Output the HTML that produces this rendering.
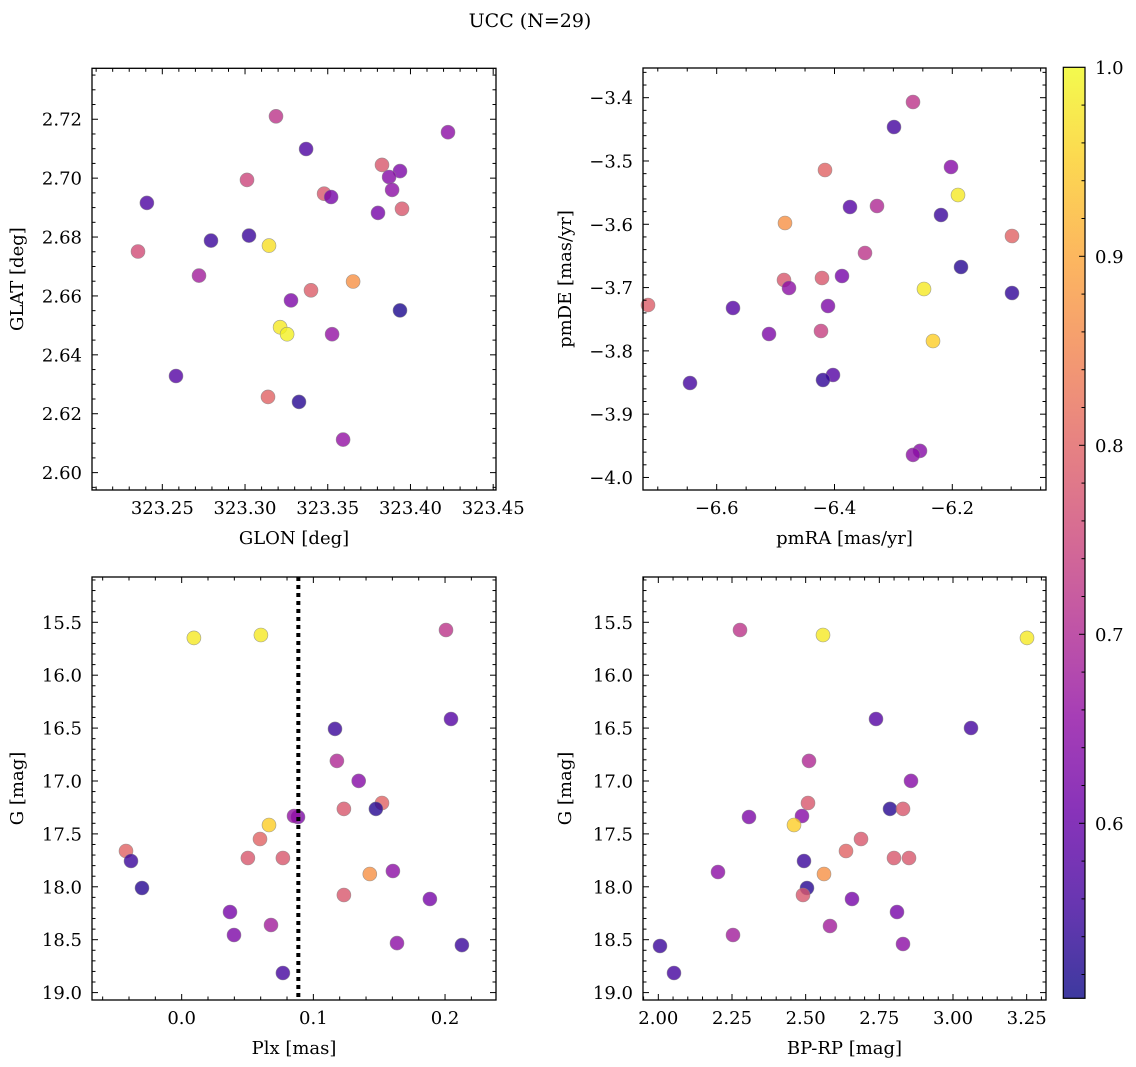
<!DOCTYPE html>
<html><head><meta charset="utf-8"><title>UCC (N=29)</title>
<style>
html,body{margin:0;padding:0;background:#fff;}
svg{display:block;font-family:"DejaVu Serif","Liberation Serif",serif;}
</style></head>
<body>
<svg id="fig" width="1136" height="1067" viewBox="0 0 1136 1067" xmlns="http://www.w3.org/2000/svg">
<rect width="1136" height="1067" fill="#fff"/>
<text x="530" y="27" text-anchor="middle" font-size="19">UCC (N=29)</text>
</svg>
<script>
// ---------- data ----------
const glon = [323.3187,323.4227,323.3369,323.3828,323.3937,323.3871,323.3012,323.3478,323.352,323.3889,323.2407,323.3804,323.3949,323.2794,323.3024,323.3145,323.2353,323.3653,323.2722,323.3399,323.3278,323.3937,323.3212,323.3254,323.3526,323.2583,323.3139,323.3326,323.3593];
const glat = [2.721,2.7156,2.7099,2.7045,2.7024,2.7004,2.6994,2.6947,2.6936,2.696,2.6916,2.6882,2.6896,2.6788,2.6805,2.6771,2.6751,2.6649,2.6669,2.6619,2.6585,2.6551,2.6494,2.647,2.647,2.6328,2.6257,2.624,2.6112];
const probA = [0.72,0.65,0.57,0.78,0.63,0.64,0.75,0.78,0.62,0.65,0.57,0.62,0.78,0.55,0.55,0.97,0.76,0.87,0.68,0.79,0.63,0.52,0.98,0.99,0.66,0.58,0.8,0.53,0.66];

const pmra = [-6.2667,-6.299,-6.2022,-6.4161,-6.1903,-6.3737,-6.3278,-6.2192,-6.484,-6.0986,-6.3482,-6.1852,-6.3873,-6.4212,-6.4857,-6.7166,-6.4772,-6.248,-6.0986,-6.5723,-6.411,-6.4229,-6.5112,-6.2328,-6.4025,-6.4195,-6.6453,-6.2548,-6.2667];
const pmde = [-3.4068,-3.4463,-3.5095,-3.5142,-3.5537,-3.5727,-3.5711,-3.5853,-3.598,-3.6185,-3.6453,-3.6675,-3.6817,-3.6848,-3.688,-3.7275,-3.7006,-3.7022,-3.7085,-3.7322,-3.7291,-3.7686,-3.7733,-3.7844,-3.8381,-3.846,-3.8507,-3.9581,-3.9644];
const probB = [0.72,0.56,0.64,0.8,0.98,0.58,0.7,0.55,0.87,0.8,0.72,0.53,0.62,0.78,0.78,0.79,0.65,0.98,0.54,0.58,0.63,0.74,0.63,0.95,0.58,0.54,0.56,0.64,0.65];

const plx = [0.0093,0.0602,0.2007,0.2045,0.1164,0.1179,0.1344,0.0883,0.1521,0.1232,0.1475,0.0853,0.0663,0.0595,-0.0423,-0.0385,0.0503,0.0769,0.1429,0.1604,-0.0301,0.1232,0.1885,0.0367,0.0397,0.0678,0.1635,0.2128,0.0769];
const gmagC = [15.648,15.62,15.573,16.414,16.508,16.81,16.999,17.34,17.208,17.264,17.264,17.331,17.416,17.548,17.662,17.756,17.728,17.728,17.879,17.851,18.011,18.078,18.115,18.238,18.456,18.361,18.532,18.551,18.815];
const probC = [0.98,0.98,0.72,0.58,0.55,0.7,0.64,0.63,0.8,0.78,0.53,0.66,0.95,0.8,0.8,0.55,0.78,0.78,0.87,0.65,0.53,0.78,0.62,0.62,0.63,0.68,0.65,0.55,0.56];

const bprp = [2.2772,2.5589,3.2511,2.7387,3.0611,2.5114,2.8575,2.3078,2.508,2.4876,2.7862,2.8303,2.4605,2.6878,2.6369,2.4944,2.8507,2.7998,2.5623,2.2026,2.5046,2.491,2.6573,2.81,2.2535,2.5826,2.8303,2.0058,2.0533];
const gmagD = [15.573,15.62,15.648,16.414,16.499,16.81,16.999,17.34,17.208,17.331,17.264,17.264,17.416,17.548,17.662,17.756,17.728,17.728,17.879,17.86,18.011,18.078,18.115,18.238,18.456,18.371,18.541,18.56,18.815];
const probD = [0.72,0.98,0.98,0.58,0.56,0.7,0.64,0.63,0.78,0.64,0.53,0.78,0.95,0.78,0.8,0.55,0.78,0.78,0.87,0.65,0.53,0.78,0.62,0.62,0.68,0.68,0.65,0.55,0.56];

const plxCut = [0.0886];

const ticksGlon = [323.25,323.30,323.35,323.40,323.45];
const ticksGlat = [2.60,2.62,2.64,2.66,2.68,2.70,2.72];
const ticksPmra = [-6.6,-6.4,-6.2];
const ticksPmde = [-4.0,-3.9,-3.8,-3.7,-3.6,-3.5,-3.4];
const ticksPlx = [0.0,0.1,0.2];
const ticksG = [15.5,16.0,16.5,17.0,17.5,18.0,18.5,19.0];
const ticksBprp = [2.00,2.25,2.50,2.75,3.00,3.25];
const ticksCbar = [0.6,0.7,0.8,0.9,1.0];
const cbarRange = [0.5074,1.0];

// ---------- helpers ----------
const NS = "http://www.w3.org/2000/svg";
const fig = document.getElementById('fig');
function mk(tag, attrs, parent){
  const e = document.createElementNS(NS, tag);
  for (const k in attrs) e.setAttribute(k, attrs[k]);
  (parent||fig).appendChild(e);
  return e;
}
const plasmaStops = ["#0d0887","#41049d","#6a00a8","#8f0da4","#b12a90","#cc4778","#e16462","#f2844b","#fca636","#fcce25","#f0f921"];
function hex2rgb(h){return [parseInt(h.substr(1,2),16),parseInt(h.substr(3,2),16),parseInt(h.substr(5,2),16)];}
function plasma(t){
  t=Math.max(0,Math.min(1,t));
  const p=t*10, i=Math.min(9,Math.floor(p)), f=p-i;
  const a=hex2rgb(plasmaStops[i]), b=hex2rgb(plasmaStops[i+1]);
  return 'rgb('+a.map((v,k)=>Math.round(v+(b[k]-v)*f)).join(',')+')';
}
function cmap(v){return plasma((v-cbarRange[0])/(cbarRange[1]-cbarRange[0]));}
function fmt(v,d){return (v<0?'\u2212':'')+Math.abs(v).toFixed(d);}

function panel(cfg){
  const g = mk('g',{});
  
  
  const L=cfg.px[0],R=cfg.px[1],T=cfg.py[0],B=cfg.py[1];
  const sx=v=>L+(v-cfg.xd[0])/(cfg.xd[1]-cfg.xd[0])*(R-L);
  const sy=v=>T+(v-cfg.yd[0])/(cfg.yd[1]-cfg.yd[0])*(B-T);
  const pg = mk('g',{},g);
  
  
  for(let i=0;i<cfg.x.length;i++){
    const c = mk('circle',{cx:sx(cfg.x[i]).toFixed(1),cy:sy(cfg.y[i]).toFixed(1),r:7,fill:cmap(cfg.c[i]),'fill-opacity':0.8,stroke:'#888','stroke-width':0.6,'stroke-opacity':0.8},pg);
    
    
  }
  if(cfg.vline){
    for(const v of cfg.vline){
      const ln = mk('line',{x1:sx(v),x2:sx(v),y1:T,y2:B,stroke:'#000','stroke-width':4,'stroke-dasharray':'4,4'},g);
      
      
    }
  }
  const tg = mk('g',{stroke:'#000','stroke-width':1},g);
  
  
  const xs=cfg.xt, xstep=xs[1]-xs[0];
  for(let k=-2;k<xs.length+1;k++){
    const base=xs[0]+k*xstep;
    for(let m=0;m<cfg.xm;m++){
      const v=base+m*xstep/cfg.xm, X=sx(v);
      if(X<L+0.5||X>R-0.5) continue;
      const len=m===0?6:3.5;
      mk('line',{x1:X,x2:X,y1:B,y2:B-len},tg);
      mk('line',{x1:X,x2:X,y1:T,y2:T+len},tg);
    }
  }
  const ys=cfg.yt, ystep=ys[1]-ys[0];
  for(let k=-2;k<ys.length+1;k++){
    const base=ys[0]+k*ystep;
    for(let m=0;m<cfg.ym;m++){
      const v=base+m*ystep/cfg.ym, Y=sy(v);
      if(Y<T+0.5||Y>B-0.5) continue;
      const len=m===0?6:3.5;
      mk('line',{x1:L,x2:L+len,y1:Y,y2:Y},tg);
      mk('line',{x1:R,x2:R-len,y1:Y,y2:Y},tg);
    }
  }
  for(const v of xs){
    const t=mk('text',{x:sx(v),y:B+24,'text-anchor':'middle','font-size':18},g);
    
    
    t.textContent=fmt(v,cfg.xdp);
  }
  for(const v of ys){
    const t=mk('text',{x:L-10,y:sy(v)+6.5,'text-anchor':'end','font-size':18},g);
    
    
    t.textContent=fmt(v,cfg.ydp);
  }
  const fr=mk('rect',{x:L,y:T,width:R-L,height:B-T,fill:'none',stroke:'#000','stroke-width':1.3},g);
  
  
  const xl=mk('text',{x:(L+R)/2,y:B+54,'text-anchor':'middle','font-size':18},g);
  
  
  xl.textContent=cfg.xlabel;
  const yx=cfg.ylx, yy=(T+B)/2;
  const yl=mk('text',{x:yx,y:yy,'text-anchor':'middle','font-size':18,transform:'rotate(-90 '+yx+' '+yy+')'},g);
  
  
  yl.textContent=cfg.ylabel;
}

panel({name:'glon-glat-panel',px:[92,496],py:[68.3,490],xd:[323.2075,323.4517],yd:[2.7373,2.5941],
  x:glon,y:glat,c:probA,xt:ticksGlon,yt:ticksGlat,xm:5,ym:4,xdp:2,ydp:2,xlabel:'GLON [deg]',ylabel:'GLAT [deg]',ylx:23});
panel({name:'pm-panel',px:[643,1046],py:[68,490],xd:[-6.7251,-6.0409],yd:[-3.3531,-4.0198],
  x:pmra,y:pmde,c:probB,xt:ticksPmra,yt:ticksPmde,xm:4,ym:5,xdp:1,ydp:1,xlabel:'pmRA [mas/yr]',ylabel:'pmDE [mas/yr]',ylx:571});
panel({name:'plx-g-panel',px:[92,496],py:[577,1000],xd:[-0.0681,0.2387],yd:[15.072,19.07],
  x:plx,y:gmagC,c:probC,xt:ticksPlx,yt:ticksG,xm:5,ym:5,xdp:1,ydp:1,xlabel:'Plx [mas]',ylabel:'G [mag]',ylx:23,vline:plxCut});
panel({name:'cmd-panel',px:[643,1046],py:[577,1000],xd:[1.948,3.3156],yd:[15.072,19.07],
  x:bprp,y:gmagD,c:probD,xt:ticksBprp,yt:ticksG,xm:5,ym:5,xdp:2,ydp:1,xlabel:'BP-RP [mag]',ylabel:'G [mag]',ylx:571});

// ---------- colorbar ----------
(function(){
  const L=1063.3,R=1085,T=67.3,B=998.3;
  const g=mk('g',{});
  
  
  const defs=mk('defs',{},g);
  const lg=mk('linearGradient',{id:'cbg',x1:0,y1:1,x2:0,y2:0},defs);
  for(let i=0;i<=20;i++){
    mk('stop',{offset:(i/20),'stop-color':plasma(i/20)},lg);
  }
  const r=mk('rect',{x:L,y:T,width:R-L,height:B-T,fill:'url(#cbg)','fill-opacity':0.8},g);
  
  
  const sy=v=>B-(v-cbarRange[0])/(cbarRange[1]-cbarRange[0])*(B-T);
  const step=ticksCbar[1]-ticksCbar[0];
  for(let k=-1;k<ticksCbar.length;k++){
    for(let m=0;m<5;m++){
      const v=ticksCbar[0]+k*step+m*step/5, Y=sy(v);
      if(Y<T+0.5||Y>B-0.5) continue;
      mk('line',{x1:R,x2:R-(m===0?6:3.5),y1:Y,y2:Y,stroke:'#000','stroke-width':1},g);
    }
  }
  for(const v of ticksCbar){
    const t=mk('text',{x:1095,y:sy(v)+6.5,'font-size':18},g);
    
    
    t.textContent=v.toFixed(1);
  }
  mk('rect',{x:L,y:T,width:R-L,height:B-T,fill:'none',stroke:'#000','stroke-width':1.2},g);
})();
</script>
</body></html>
